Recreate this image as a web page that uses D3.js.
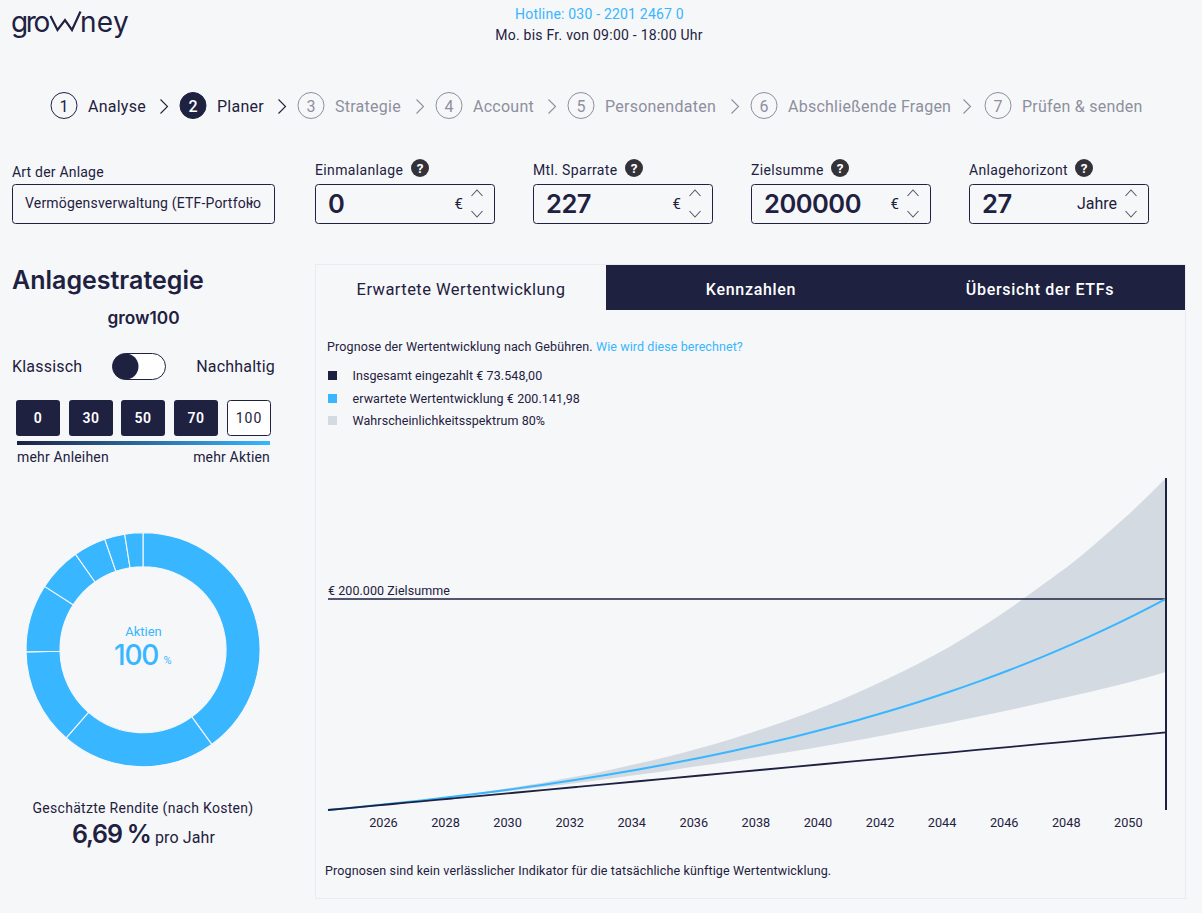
<!DOCTYPE html>
<html lang="de">
<head>
<meta charset="utf-8">
<script src="https://cdn.jsdelivr.net/npm/d3@7"></script>
<style>
  html, body { margin: 0; padding: 0; background: #f6f7f9; overflow: hidden; }
  svg { display: block; }
  text { font-family: Roboto, sans-serif; fill: #1e2140; }
  .head { font-family: Inter, sans-serif; font-weight: 600; }
</style>
</head>
<body>
<svg id="page" width="1202" height="913"></svg>
<script>
const stepNames = ["Analyse", "Planer", "Strategie", "Account", "Personendaten", "Abschließende Fragen", "Prüfen & senden"];
const fieldNames = ["Einmalanlage", "Mtl. Sparrate", "Zielsumme", "Anlagehorizont"];
const fieldValues = ["0", "227", "200000", "27"];
const fieldUnits = ["€", "€", "€", "Jahre"];
const riskLevels = ["0", "30", "50", "70", "100"];
const tabNames = ["Erwartete Wertentwicklung", "Kennzahlen", "Übersicht der ETFs"];
const legendLabels = ["Insgesamt eingezahlt € 73.548,00", "erwartete Wertentwicklung € 200.141,98", "Wahrscheinlichkeitsspektrum 80%"];

const donutShares = [40, 21.4, 13.3, 9.4, 6.1, 4.5, 2.8, 2.5];

const years = [2024.23, 2025.23, 2026.23, 2027.23, 2028.23, 2029.23, 2030.23, 2031.23, 2032.23, 2033.23,
  2034.23, 2035.23, 2036.23, 2037.23, 2038.23, 2039.23, 2040.23, 2041.23, 2042.23, 2043.23,
  2044.23, 2045.23, 2046.23, 2047.23, 2048.23, 2049.23, 2050.23, 2051.23];
const paidIn = [0, 2724, 5448, 8172, 10896, 13620, 16344, 19068, 21792, 24516,
  27240, 29964, 32688, 35412, 38136, 40860, 43584, 46308, 49032, 51756,
  54480, 57204, 59928, 62652, 65376, 68100, 70824, 73548];
const expected = [0, 2822, 5835, 9044, 12473, 16126, 20028, 24192, 28634, 33364,
  38424, 43816, 49570, 55707, 62257, 69243, 76697, 84653, 93135, 102188,
  111848, 122153, 133146, 144877, 157388, 170739, 184983, 200142];
const upper = [0, 2836, 5923, 9315, 13034, 17094, 21530, 26369, 31640, 37535,
  43995, 51046, 58740, 67405, 76700, 86900, 98172, 110472, 123870, 138465,
  154350, 172236, 191730, 212969, 234508, 259523, 285800, 314700];
const lower = [0, 2785, 5683, 8691, 11824, 15078, 18466, 21990, 25656, 29460,
  33429, 37550, 41837, 46293, 50926, 55740, 60745, 65944, 71342, 76950,
  82768, 88806, 95065, 101560, 108280, 115250, 122460, 130800];
const xTicks = [2026, 2028, 2030, 2032, 2034, 2036, 2038, 2040, 2042, 2044, 2046, 2048, 2050];
const goal = 200000;

const dark = "#1e2140", blue = "#38b6ff", band = "#d3dae1", grey = "#8e8f9e";
const svg = d3.select("#page");

function label(g, x, y, str, size, opts = {}) {
  return g.append("text")
    .attr("x", x).attr("y", y)
    .attr("font-size", size)
    .attr("text-anchor", opts.anchor || "start")
    .attr("font-weight", opts.weight || 400)
    .attr("letter-spacing", opts.ls || null)
    .attr("class", opts.cls || null)
    .style("fill", opts.fill || dark)
    .text(str);
}

function chevron(g, x, y, w, h, dir, color) {
  // dir: "right", "up", "down"
  const pts = dir === "right"
    ? [[x - w / 2, y - h / 2], [x + w / 2, y], [x - w / 2, y + h / 2]]
    : dir === "up"
      ? [[x - w / 2, y + h / 2], [x, y - h / 2], [x + w / 2, y + h / 2]]
      : [[x - w / 2, y - h / 2], [x, y + h / 2], [x + w / 2, y - h / 2]];
  g.append("path").attr("d", d3.line()(pts)).attr("fill", "none").attr("stroke", color).attr("stroke-width", 1.1);
}

// header
const head = svg.append("g");
const logo = head.append("text").attr("y", 32).attr("font-size", 28).style("font-family", "Inter, sans-serif").style("fill", dark);
logo.append("tspan").attr("x", 11).attr("letter-spacing", -2.4).text("gro");
logo.append("tspan").attr("x", 50).attr("fill-opacity", 0).style("fill-opacity", 0).attr("font-size", 14).text("w");
logo.append("tspan").attr("x", 80).attr("letter-spacing", 0.3).text("ney");
// the raised w of the logo
head.append("path").attr("d", d3.line()([[50.5, 16], [57.5, 30], [65, 20], [72, 30], [80.5, 11.5]]))
  .attr("fill", "none").attr("stroke", dark).attr("stroke-width", 2.2);
label(head, 599.5, 19, "Hotline: 030 - 2201 2467 0", 14, { anchor: "middle", fill: blue, ls: 0.2 });
label(head, 599, 40, "Mo. bis Fr. von 09:00 - 18:00 Uhr", 14, { anchor: "middle", ls: 0.25 });

// steps
const stepCx = [64, 193, 311, 449, 581, 764, 998];
const stepChev = [164, 282, 420, 552, 735, 967];
const steps = svg.append("g");
stepNames.forEach((name, i) => {
  const active = i < 2;
  const c = active ? dark : grey;
  steps.append("circle").attr("cx", stepCx[i]).attr("cy", 105.5).attr("r", 13)
    .attr("fill", i === 1 ? dark : "none").attr("stroke", c).attr("stroke-width", 1);
  label(steps, stepCx[i], 111.5, String(i + 1), 16, { anchor: "middle", fill: i === 1 ? "#fff" : c, weight: i === 1 ? 500 : 400 });
  label(steps, stepCx[i] + 24, 112, name, 16, { fill: c, ls: 0.25 });
  if (i < 6) chevron(steps, stepChev[i], 106.5, 7, 14, "right", active ? dark : grey);
});

// inputs
const form = svg.append("g");
label(form, 12, 177, "Art der Anlage", 14, { ls: 0.2 });
form.append("rect").attr("x", 12.5).attr("y", 184.5).attr("width", 262).attr("height", 39).attr("rx", 3)
  .attr("fill", "none").attr("stroke", dark);
label(form, 25, 208, "Vermögensverwaltung (ETF-Portfolio", 14, { ls: 0.18 });
chevron(form, 250, 203, 6, 3, "down", dark);

const boxX = [315, 533, 751, 969];
const helpX = [420, 634, 840, 1084];
fieldNames.forEach((name, i) => {
  const x = boxX[i];
  label(form, x, 175, name, 14, { ls: 0.35 });
  form.append("circle").attr("cx", helpX[i]).attr("cy", 168).attr("r", 9).attr("fill", "#333238");
  label(form, helpX[i], 173, "?", 13.5, { anchor: "middle", fill: "#fff", weight: 700 });
  form.append("rect").attr("x", x + 0.5).attr("y", 184.5).attr("width", 179).attr("height", 39).attr("rx", 3)
    .attr("fill", "none").attr("stroke", dark);
  label(form, x + 13, 213, fieldValues[i], 25.5, { cls: "head", ls: -0.5 });
  label(form, x + 148, 209, fieldUnits[i], i === 3 ? 16 : 15, { anchor: "end" });
  chevron(form, x + 162, 193, 11, 6, "up", "#55566a");
  chevron(form, x + 162, 214, 11, 6, "down", "#55566a");
});

// left column
const left = svg.append("g");
label(left, 12, 289, "Anlagestrategie", 25, { cls: "head" });
label(left, 143.5, 324, "grow100", 17.3, { cls: "head", anchor: "middle" });
label(left, 12, 372, "Klassisch", 16, { ls: 0.2 });
label(left, 275, 372, "Nachhaltig", 16, { anchor: "end", ls: 0.2 });
left.append("rect").attr("x", 112.5).attr("y", 353.5).attr("width", 53).attr("height", 26).attr("rx", 13)
  .attr("fill", "#fff").attr("stroke", dark);
left.append("circle").attr("cx", 125.5).attr("cy", 366.5).attr("r", 13).attr("fill", dark);

const riskX = [16, 69, 121, 174, 227];
riskLevels.forEach((lvl, i) => {
  const on = i === 4;
  left.append("rect").attr("x", on ? riskX[i] + 0.5 : riskX[i]).attr("y", on ? 400.5 : 400)
    .attr("width", on ? 43 : 44).attr("height", on ? 35 : 36).attr("rx", 3)
    .attr("fill", on ? "#fff" : dark).attr("stroke", on ? dark : "none");
  label(left, riskX[i] + 22, 423, lvl, 14, { anchor: "middle", fill: on ? dark : "#fff", weight: on ? 400 : 600, ls: on ? 1 : 0.5 });
});

const defs = svg.append("defs");
const grad = defs.append("linearGradient").attr("id", "risk-gradient");
grad.append("stop").attr("offset", "0%").attr("stop-color", dark);
grad.append("stop").attr("offset", "100%").attr("stop-color", blue);
left.append("rect").attr("x", 17).attr("y", 441).attr("width", 253).attr("height", 4).attr("fill", "url(#risk-gradient)");
label(left, 17, 462, "mehr Anleihen", 14, { ls: 0.17 });
label(left, 270, 462, "mehr Aktien", 14, { anchor: "end", ls: 0.17 });

// donut
const pie = d3.pie().sort(null)(donutShares);
const arc = d3.arc().innerRadius(83).outerRadius(117);
const donut = svg.append("g").attr("transform", "translate(143,649.7)");
donut.selectAll("path").data(pie).join("path")
  .attr("d", arc).attr("fill", blue).attr("stroke", "#f6f7f9").attr("stroke-width", 1.1);
label(left, 143.5, 636, "Aktien", 13, { anchor: "middle", fill: blue });
label(left, 114, 665, "100", 28, { fill: blue, weight: 500, ls: -1.2 }).style("font-family", "Inter, sans-serif");
label(left, 163.5, 664, "%", 11, { fill: blue });
label(left, 143, 813, "Geschätzte Rendite (nach Kosten)", 14, { anchor: "middle", ls: 0.3 });
label(left, 72, 843, "6,69 %", 25, { cls: "head", ls: -1.2 });
label(left, 155, 843, "pro Jahr", 16, { ls: 0.1 });

// panel + tabs
const panel = svg.append("g");
panel.append("rect").attr("x", 315.5).attr("y", 264.5).attr("width", 870).attr("height", 634)
  .attr("fill", "none").attr("stroke", "#e8ebef");
panel.append("rect").attr("x", 606).attr("y", 265).attr("width", 579).attr("height", 45).attr("fill", dark);
label(panel, 461, 295, tabNames[0], 16.5, { anchor: "middle", ls: 0.45 });
label(panel, 751, 295, tabNames[1], 16, { anchor: "middle", fill: "#fff", weight: 500, ls: 0.7 });
label(panel, 1040, 295, tabNames[2], 16, { anchor: "middle", fill: "#fff", weight: 500, ls: 0.7 });

label(panel, 327, 350.5, "Prognose der Wertentwicklung nach Gebühren.", 12.5, { ls: 0.12 });
label(panel, 596, 350.5, "Wie wird diese berechnet?", 12.5, { fill: blue, ls: 0.08 });

const legendColors = [dark, blue, band];
const legendY = [380, 403, 425];
legendLabels.forEach((txt, i) => {
  panel.append("rect").attr("x", 328).attr("y", legendY[i] - 9).attr("width", 9).attr("height", 9).attr("fill", legendColors[i]);
  label(panel, 352.5, legendY[i], txt, 12.5, { ls: 0.08 });
});
label(panel, 325, 875, "Prognosen sind kein verlässlicher Indikator für die tatsächliche künftige Wertentwicklung.", 12.5, { ls: 0.13 });

// chart
const getX = d3.scaleLinear().domain([2024.23, 2051.23]).range([328, 1166]);
const getY = d3.scaleLinear().domain([0, goal]).range([810, 599]);

const chart = svg.append("g");
const areaPath = d3.area()
  .x((d, i) => getX(years[i]))
  .y0((d, i) => getY(lower[i]))
  .y1((d, i) => getY(upper[i]))
  .curve(d3.curveMonotoneX)(years);
chart.append("path").attr("d", areaPath).attr("fill", band);

const linePath = values => d3.line()
  .x((d, i) => getX(years[i]))
  .y(d => getY(d))
  .curve(d3.curveMonotoneX)(values);

chart.append("line")
  .attr("x1", getX(years[0])).attr("x2", getX(years[years.length - 1]))
  .attr("y1", getY(goal)).attr("y2", getY(goal))
  .attr("stroke", dark).attr("stroke-width", 1.7);
chart.append("path").attr("d", linePath(expected)).attr("fill", "none").attr("stroke", blue).attr("stroke-width", 2);
chart.append("path").attr("d", linePath(paidIn)).attr("fill", "none").attr("stroke", dark).attr("stroke-width", 1.8);
chart.append("line")
  .attr("x1", getX(years[years.length - 1])).attr("x2", getX(years[years.length - 1]))
  .attr("y1", getY(upper[upper.length - 1])).attr("y2", getY(0))
  .attr("stroke", dark).attr("stroke-width", 2);
label(chart, 328, 595, "€ 200.000 Zielsumme", 12.5, { ls: 0.06 });

const xAxis = d3.axisBottom(getX).tickValues(xTicks).tickFormat(d3.format("d")).tickSize(0);
const axisG = chart.append("g").attr("class", "axis xAxis").attr("transform", "translate(0,815)").call(xAxis);
axisG.select(".domain").remove();
axisG.selectAll("text").attr("font-size", 12.7).attr("font-family", "Roboto, sans-serif").style("fill", dark);
</script>
</body>
</html>
